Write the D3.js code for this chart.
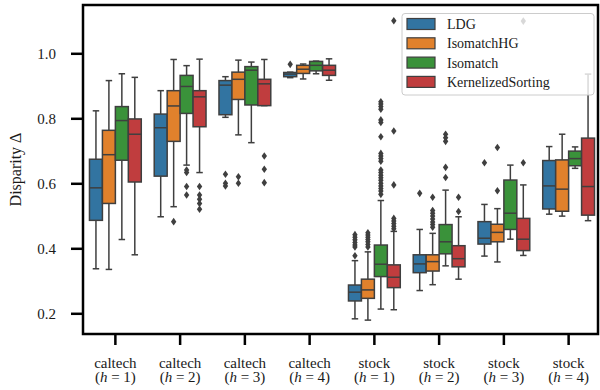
<!DOCTYPE html>
<html><head><meta charset="utf-8">
<script src="https://cdn.jsdelivr.net/npm/d3@7"></script>
<style>body{margin:0;background:#fff}svg{display:block}</style>
</head><body><svg id="c" width="600" height="390"></svg>
<script>
// ---- data ----
const datasets = ["caltech","caltech","caltech","caltech","stock","stock","stock","stock"];
const hValues = [1,2,3,4,1,2,3,4];
const methods = ["LDG","IsomatchHG","Isomatch","KernelizedSorting"];
const colors = ["#3274a1","#e1812c","#3a923a","#c03d3e"];
const yTicks = [0.2,0.4,0.6,0.8,1.0];
// [lower whisker, Q1, median, Q3, upper whisker]
const ldgStats = [[0.337,0.486,0.586,0.674,0.823],[0.497,0.622,0.771,0.813,0.885],[0.803,0.811,0.902,0.916,0.928],[0.925,0.928,0.936,0.941,0.942],
  [0.183,0.238,0.265,0.287,0.362],[0.270,0.325,0.352,0.380,0.458],[0.376,0.413,0.431,0.482,0.535],[0.505,0.521,0.592,0.670,0.713]];
const ldgOutliers = [[],[],[0.628,0.600,0.592],[0.966],[0.442,0.434,0.426,0.418,0.410,0.404,0.377],[0.569],[0.663],[]];
const isomatchHGStats = [[0.335,0.538,0.688,0.763,0.916],[0.528,0.729,0.838,0.885,0.981],[0.749,0.858,0.920,0.942,0.979],[0.921,0.938,0.951,0.963,0.967],
  [0.179,0.246,0.272,0.305,0.389],[0.288,0.330,0.359,0.380,0.446],[0.358,0.420,0.449,0.474,0.522],[0.499,0.514,0.582,0.672,0.751]];
const isomatchHGOutliers = [[],[0.482],[0.620,0.600],[],[0.448,0.441,0.434,0.427,0.420,0.412,0.404],[0.557,0.516,0.508,0.499,0.490,0.481,0.473,0.465],[0.710,0.577],[]];
const isomatchStats = [[0.427,0.671,0.793,0.836,0.937],[0.656,0.815,0.898,0.932,0.962],[0.725,0.841,0.948,0.959,0.973],[0.937,0.946,0.963,0.975,0.976],
  [0.213,0.313,0.351,0.410,0.547],[0.346,0.383,0.420,0.473,0.579],[0.428,0.458,0.508,0.610,0.656],[0.646,0.654,0.676,0.699,0.712]];
const isomatchOutliers = [[],[0.641,0.633,0.590,0.564],[],[],
  [0.851,0.844,0.836,0.828,0.795,0.787,0.743,0.692,0.684,0.676,0.668,0.641,0.633,0.625,0.617,0.609,0.600,0.592,0.584,0.576,0.566],
  [0.751,0.740,0.729,0.649,0.618],[],[]];
const kernelizedStats = [[0.380,0.604,0.751,0.798,0.926],[0.633,0.774,0.866,0.885,0.982],[0.839,0.839,0.906,0.920,0.981],[0.917,0.932,0.948,0.963,0.983],
  [0.211,0.279,0.311,0.349,0.452],[0.305,0.343,0.368,0.408,0.497],[0.378,0.393,0.428,0.492,0.595],[0.485,0.502,0.590,0.739,0.936]];
const kernelizedOutliers = [[],[0.590,0.564,0.551,0.538,0.520],[0.684,0.643,0.602],[],
  [1.100,0.761,0.595,0.492,0.484,0.476,0.468,0.460],[0.557,0.513],[0.663,1.099],[]];

const statsBySeries = [ldgStats, isomatchHGStats, isomatchStats, kernelizedStats];
const outliersBySeries = [ldgOutliers, isomatchHGOutliers, isomatchOutliers, kernelizedOutliers];

// ---- layout ----
const FONT = '"Liberation Serif"';
const TXT = "#1a1a1a";
const svg = d3.select("#c");
const L = 83, R = 598, T = 5, B = 334;
const cats = d3.range(datasets.length);
const x = d3.scaleBand().domain(cats).range([L, 601]).paddingInner(0).paddingOuter(0);
const y = d3.scaleLinear().domain([0.1363, 1.1486]).range([B, T]);
const sub = d3.scaleBand().domain(d3.range(methods.length)).range([0, x.bandwidth()*0.8]);
const gray = "#3f3f3f";

const plot = svg.append("g");
methods.forEach((m, si) => {
  const st = statsBySeries[si], outs = outliersBySeries[si];
  cats.forEach(ci => {
    const s = st[ci];
    const x0 = x(ci) + x.bandwidth()*0.1 + sub(si);
    const w = sub.bandwidth();
    const cx = x0 + w/2;
    const g = plot.append("g");
    g.append("line").attr("x1",cx).attr("x2",cx).attr("y1",y(s[0])).attr("y2",y(s[1])).attr("stroke",gray).attr("stroke-width",1.5);
    g.append("line").attr("x1",cx).attr("x2",cx).attr("y1",y(s[3])).attr("y2",y(s[4])).attr("stroke",gray).attr("stroke-width",1.5);
    [s[0], s[4]].forEach(v => g.append("line").attr("x1",cx-w/4).attr("x2",cx+w/4).attr("y1",y(v)).attr("y2",y(v)).attr("stroke",gray).attr("stroke-width",1.5));
    g.append("rect").attr("x",x0).attr("width",w).attr("y",y(s[3])).attr("height",Math.max(0.5,y(s[1])-y(s[3])))
      .attr("fill",colors[si]).attr("stroke",gray).attr("stroke-width",1.5);
    g.append("line").attr("x1",x0).attr("x2",x0+w).attr("y1",y(s[2])).attr("y2",y(s[2])).attr("stroke",gray).attr("stroke-width",1.5);
    outs[ci].forEach(v => {
      const py = y(v);
      g.append("path").attr("d",`M${cx},${py-3.8}L${cx+2.7},${py}L${cx},${py+3.8}L${cx-2.7},${py}Z`).attr("fill",gray);
    });
  });
});

// axes
const yAxis = d3.axisLeft(y).tickValues(yTicks).tickFormat(d3.format(".1f")).tickSize(12).tickPadding(15);
const gy = svg.append("g").attr("transform",`translate(${L},0)`).call(yAxis);
gy.select(".domain").remove();
gy.selectAll(".tick line").attr("stroke","#000").attr("stroke-width",2.5);
gy.selectAll(".tick text").style("font-family",FONT).style("font-size","15px").attr("fill",TXT);

const xAxis = d3.axisBottom(x).tickSize(11).tickFormat(() => "");
const gx = svg.append("g").attr("transform",`translate(0,${B})`).call(xAxis);
gx.select(".domain").remove();
gx.selectAll(".tick line").attr("stroke","#000").attr("stroke-width",2.5);
const xl = svg.append("g");
cats.forEach(ci => {
  const cx = x(ci) + x.bandwidth()/2;
  xl.append("text").attr("x",cx).attr("y",367.5).attr("text-anchor","middle").style("font-family",FONT).style("font-size","15px").attr("fill",TXT).text(datasets[ci]);
  const t = xl.append("text").attr("x",cx).attr("y",382).attr("text-anchor","middle").style("font-family",FONT).style("font-size","15px").attr("fill",TXT);
  t.append("tspan").text("(");
  t.append("tspan").style("font-style","italic").text("h");
  t.append("tspan").text(" = " + hValues[ci] + ")");
});

svg.append("rect").attr("x",L).attr("y",T).attr("width",R-L).attr("height",B-T).attr("fill","none").attr("stroke","#000").attr("stroke-width",2.5);

svg.append("text").attr("transform",`translate(21,${(T+B)/2}) rotate(-90)`).attr("text-anchor","middle")
  .style("font-family",FONT).style("font-size","16px").attr("fill",TXT).text("Disparity Δ");

const lg = svg.append("g");
lg.append("rect").attr("x",402).attr("y",13.5).attr("width",192).attr("height",81.5).attr("rx",3)
  .attr("fill","#fff").attr("fill-opacity",0.8).attr("stroke","#cccccc").attr("stroke-width",1);
methods.forEach((m, i) => {
  const cy = 24 + i*19.3;
  lg.append("rect").attr("x",407).attr("y",cy-5.5).attr("width",28).attr("height",11).attr("fill",colors[i]).attr("stroke",gray).attr("stroke-width",1.2);
  lg.append("text").attr("x",447).attr("y",cy+5).style("font-family",FONT).style("font-size","14px").attr("fill",TXT).text(m);
});
</script></body></html>
